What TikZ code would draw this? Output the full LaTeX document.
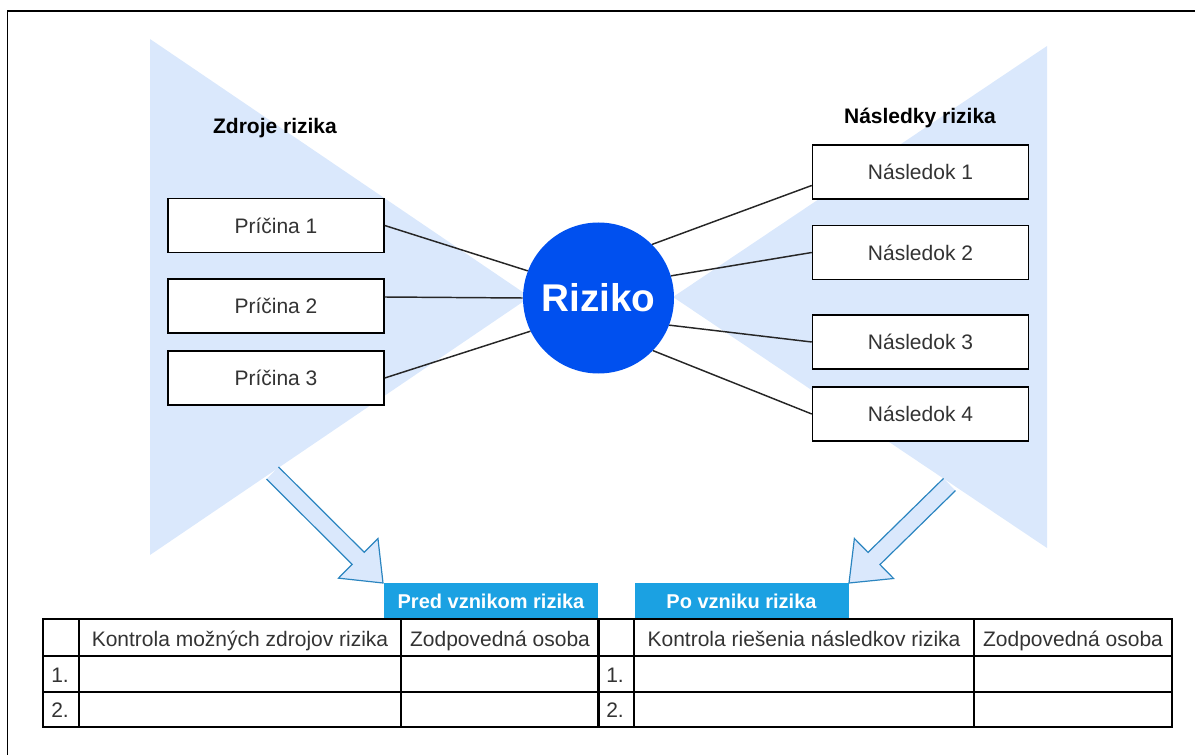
\documentclass[tikz,border=0pt]{standalone}
\usepackage{fontspec}
\setmainfont{Liberation Sans}
\usetikzlibrary{calc}
\definecolor{bowfill}{HTML}{DAE8FC}
\definecolor{rizblue}{HTML}{0050EF}
\definecolor{tagblue}{HTML}{1BA1E2}
\definecolor{arrline}{HTML}{2B85C0}
\definecolor{txtgray}{HTML}{333333}
\tikzset{
    causebox/.style={draw, line width=1.1pt, fill=white, minimum width=162pt, minimum height=40.5pt,
        inner sep=0pt, text=txtgray, font=\fontsize{15.75}{18}\selectfont},
    title/.style={font=\fontsize{15.75}{18}\selectfont\bfseries},
    tag/.style={fill=tagblue, text=white, minimum width=160.5pt, minimum height=27pt, inner sep=0pt,
        font=\fontsize{15}{18}\selectfont\bfseries},
    cell/.style={text=txtgray, inner sep=0pt, anchor=base, font=\fontsize{15.75}{18}\selectfont},
    tabline/.style={line width=1.1pt},
    link/.style={line width=1.1pt, black!85}
}
% block arrow from tail #1 to tip #2
\newcommand{\fatarrow}[2]{%
    \coordinate (fab) at ($(#2)!26.25pt!(#1)$);
    \coordinate (fat1) at ($(#1)!6.4pt!90:(#2)$);
    \coordinate (fat2) at ($(#1)!6.4pt!-90:(#2)$);
    \coordinate (fas1) at ($(fab)!6.4pt!90:(#2)$);
    \coordinate (fas2) at ($(fab)!6.4pt!-90:(#2)$);
    \coordinate (fah1) at ($(fab)!21pt!90:(#2)$);
    \coordinate (fah2) at ($(fab)!21pt!-90:(#2)$);
    \fill[bowfill] (fat1)--(fas1)--(fah1)--(#2)--(fah2)--(fas2)--(fat2)--cycle;
    \draw[arrline, line width=0.9pt] (fat1)--(fas1)--(fah1)--(#2)--(fah2)--(fas2)--(fat2);
}
\begin{document}
\begin{tikzpicture}[x=0.75pt, y=-0.75pt]
    \useasboundingbox (0,0) rectangle (1195,755);
    \draw[line width=1.1pt] (7.5,755)--(7.5,11)--(1195,11);
    % bow tie
    \fill[bowfill] (150,39)--(530,297)--(150,555)--cycle;
    \fill[bowfill] (1047,46)--(673,297)--(1047,548)--cycle;
    \coordinate (ltail) at (272.5,473);
    \coordinate (ltip) at (383,583);
    \coordinate (rtail) at (949.5,484.5);
    \coordinate (rtip) at (849,583);
    \fatarrow{ltail}{ltip}
    \fatarrow{rtail}{rtip}
    \node[title] (zdroje) at (275,128) {Zdroje rizika};
    \node[title] (nasledky) at (920,118) {Následky rizika};
    \node[circle, fill=rizblue, minimum size=113.25pt, inner sep=0pt, text=white,
        font=\fontsize{29}{34}\selectfont\bfseries] (riziko) at (598.5,298) {Riziko};
    \node[causebox] (p1) at (276,225.5) {Príčina 1};
    \node[causebox] (p2) at (276,306) {Príčina 2};
    \node[causebox] (p3) at (276,378) {Príčina 3};
    \node[causebox] (n1) at (920.5,172) {Následok 1};
    \node[causebox] (n2) at (920.5,252.5) {Následok 2};
    \node[causebox] (n3) at (920.5,342) {Následok 3};
    \node[causebox] (n4) at (920.5,414) {Následok 4};
    \draw[link] (p1.east) -- (riziko.159);
    \draw[link] ([yshift=6.75pt]p2.east) -- (riziko.180);
    \draw[link] (p3.east) -- (riziko.206);
    \draw[link] ([yshift=-10.1pt]n1.west) -- (riziko.45);
    \draw[link] (n2.west) -- (riziko.17);
    \draw[link] (n3.west) -- (riziko.-21);
    \draw[link] (n4.west) -- (riziko.-44);
    % tables
    \node[tag] (pred) at (491,601) {Pred vznikom rizika};
    \node[tag] (po) at (741.5,601) {Po vzniku rizika};
    \draw[tabline] (43,619) rectangle (599,727);
    \draw[tabline] (43,656)--(599,656) (43,692)--(599,692);
    \draw[tabline] (79,619)--(79,727) (401,619)--(401,727);
    \draw[tabline] (598,619) rectangle (1172,727);
    \draw[tabline] (598,656)--(1172,656) (598,692)--(1172,692);
    \draw[tabline] (634,619)--(634,727) (974,619)--(974,727);
    \node[cell] (lhead) at (240,646) {Kontrola možných zdrojov rizika};
    \node[cell] (losoba) at (500,646) {Zodpovedná osoba};
    \node[cell, anchor=base west] (lone) at (51,682) {1.};
    \node[cell, anchor=base west] (ltwo) at (51,717) {2.};
    \node[cell] (rhead) at (804,646) {Kontrola riešenia následkov rizika};
    \node[cell] (rosoba) at (1073,646) {Zodpovedná osoba};
    \node[cell, anchor=base west] (rone) at (606,682) {1.};
    \node[cell, anchor=base west] (rtwo) at (606,717) {2.};
\end{tikzpicture}
\end{document}
